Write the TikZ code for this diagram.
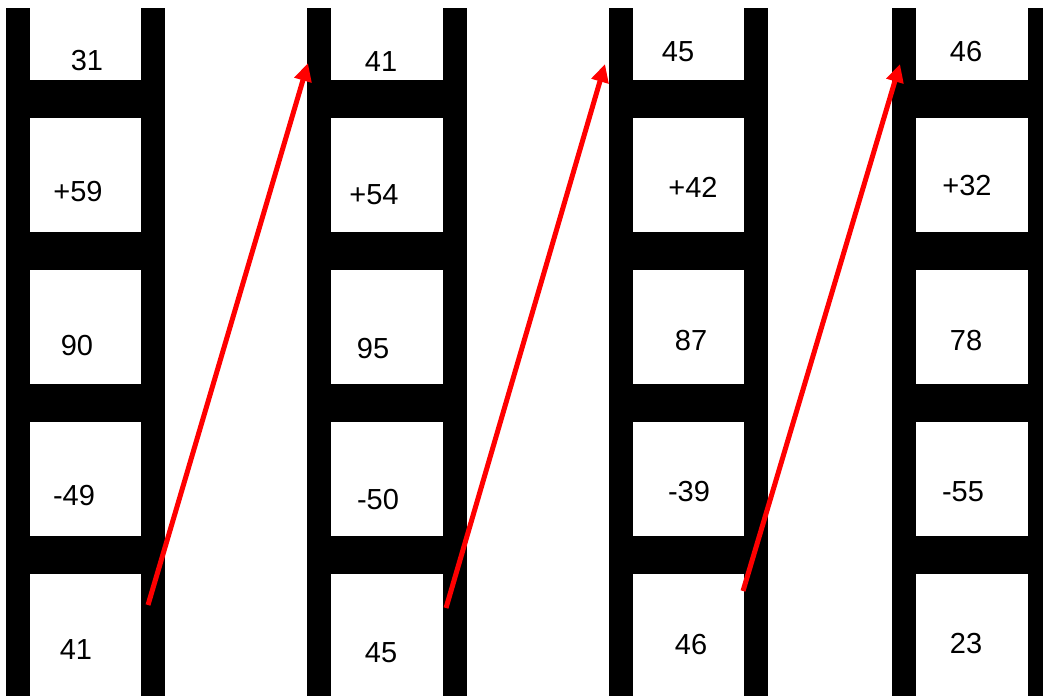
\documentclass[tikz,border=0pt]{standalone}
\usepackage{fontspec}
\setmainfont{Liberation Sans}
\usetikzlibrary{arrows.meta}
\begin{document}
\begin{tikzpicture}[x=1pt,y=-1pt,
  rail/.style={fill=black,draw=none},
  num/.style={inner sep=0pt,font=\fontsize{29}{32}\selectfont},
  jump/.style={draw=red,line width=5pt,-{Triangle[length=18pt,width=17pt]}}]
\useasboundingbox (0,0) rectangle (1043,696);
\fill[white] (0,0) rectangle (1043,696);
\begin{scope}
\clip (0,0) rectangle (1043,696);
\foreach \L/\R in {6/141,307/443,609/744,892/1028}{
  \fill[rail] (\L,8) rectangle ++(24,688);
  \fill[rail] (\R,8) rectangle ++(24,688);
  \foreach \y in {80,232,384,536}{
    \fill[rail] (\L+24,\y) rectangle (\R,\y+38);
  }
}
\end{scope}
% ladder 1
\node[num] (a1) at (87,61) {31};
\node[num] (a2) at (78,192) {+59};
\node[num] (a3) at (77,346) {90};
\node[num] (a4) at (74,496) {-49};
\node[num] (a5) at (76,650) {41};
% ladder 2
\node[num] (b1) at (381,62) {41};
\node[num] (b2) at (374,195) {+54};
\node[num] (b3) at (373,349) {95};
\node[num] (b4) at (378,500) {-50};
\node[num] (b5) at (381,653) {45};
% ladder 3
\node[num] (c1) at (678,52) {45};
\node[num] (c2) at (693,187) {+42};
\node[num] (c3) at (691,341) {87};
\node[num] (c4) at (689,492) {-39};
\node[num] (c5) at (691,645) {46};
% ladder 4
\node[num] (d1) at (966,52) {46};
\node[num] (d2) at (967,186) {+32};
\node[num] (d3) at (966,341) {78};
\node[num] (d4) at (963,492) {-55};
\node[num] (d5) at (966,644) {23};
% arrows
\coordinate (s1) at (148,605);
\coordinate (t1) at (308,63);
\coordinate (s2) at (446,608);
\coordinate (t2) at (605,64);
\coordinate (s3) at (743,591);
\coordinate (t3) at (900,64);
\draw[jump] (s1) -- (t1);
\draw[jump] (s2) -- (t2);
\draw[jump] (s3) -- (t3);
\end{tikzpicture}
\end{document}
